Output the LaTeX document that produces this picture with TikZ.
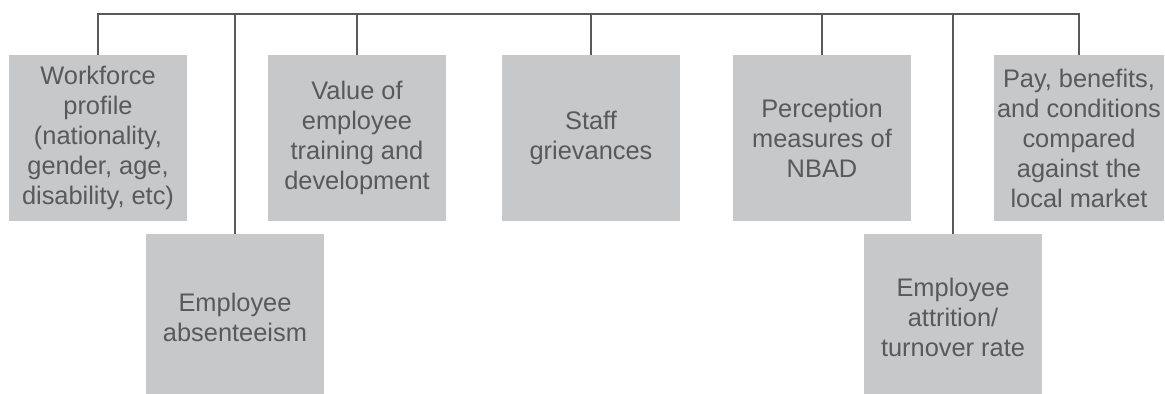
\documentclass[tikz,border=0pt]{standalone}
\usepackage{fontspec}
\setmainfont{Liberation Sans}
\usepackage{tikz}
\usetikzlibrary{positioning}

\definecolor{boxgray}{RGB}{199,200,202}
\definecolor{inkgray}{RGB}{88,89,91}

\begin{document}
\begin{tikzpicture}[x=0.5pt, y=-0.5pt,
        box/.style={rectangle, fill=boxgray, text=inkgray, align=center,
            minimum width=89pt, minimum height=83pt, inner sep=0pt,
            font=\fontsize{12.7}{15}\selectfont},
        conn/.style={draw=inkgray, line width=1.2pt}]
                \useasboundingbox (0,0) rectangle (1165,394);

                % upper row
                \node[box] (profile) at (98,138) {Workforce\\profile\\(nationality,\\gender, age,\\disability, etc)};
                \node[box] (training) at (357,138) {Value of\\employee\\training and\\development};
                \node[box] (grievance) at (591,138) {Staff\\grievances};
                \node[box] (perception) at (822,138) {Perception\\measures of\\NBAD};
                \node[box, minimum width=85pt] (pay) at (1079,138) {Pay, benefits,\\and conditions\\compared\\against the\\local market};

                % lower row
                \node[box] (absence) at (235,317) {Employee\\absenteeism};
                \node[box] (attrition) at (953,317) {Employee\\attrition/\\turnover rate};

                \coordinate (bus) at (0,14);

                \draw[conn] (profile.north) |- (bus -| pay.north) -- (pay.north);
                \foreach \n in {absence, training, grievance, perception, attrition}
                    \draw[conn] (\n.north) -- (\n.north |- bus);
            \end{tikzpicture}
\end{document}
